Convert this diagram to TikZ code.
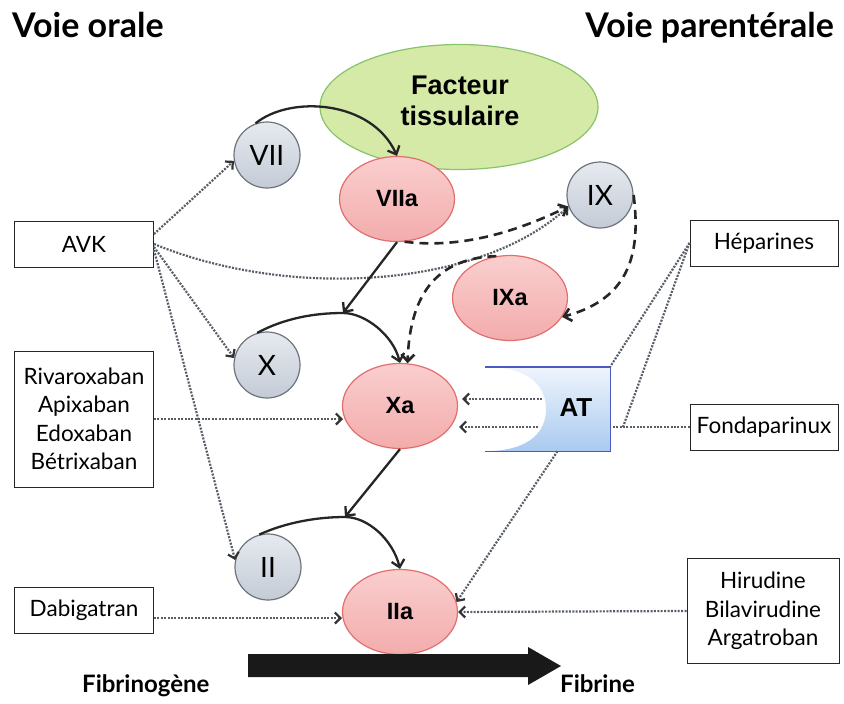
\documentclass[tikz,border=0pt]{standalone}
\usepackage{fontspec}
\setmainfont{Lato}
\newfontfamily\arialf{Liberation Sans}
\usetikzlibrary{arrows.meta,shapes.geometric}
\definecolor{dotc}{RGB}{88,94,104}
\definecolor{pinkf}{RGB}{243,172,172}
\definecolor{pinkt}{RGB}{250,206,206}
\definecolor{pinkd}{RGB}{226,110,110}
\definecolor{grayf}{RGB}{196,203,213}
\definecolor{grayt}{RGB}{230,234,240}
\definecolor{grayd}{RGB}{110,116,124}
\definecolor{greenf}{RGB}{214,234,168}
\definecolor{greend}{RGB}{135,195,105}
\definecolor{atf}{RGB}{170,202,240}
\definecolor{att}{RGB}{238,245,252}
\definecolor{atd}{RGB}{75,90,195}
\tikzset{
  drug/.style={draw=black!85, line width=1pt, minimum width=139, minimum height=46, align=center, inner sep=0, font=\fontsize{22.5}{28.5}\selectfont},
  gcirc/.style={circle, draw=grayd, line width=1.2pt, top color=grayt, bottom color=grayf, minimum size=66, inner sep=0, font=\fontsize{28}{28}\selectfont},
  pell/.style={ellipse, draw=pinkd, line width=1.2pt, top color=pinkt, bottom color=pinkf, minimum width=115, minimum height=85, inner sep=0, font=\arialf\bfseries\fontsize{23.5}{23.5}\selectfont},
  title/.style={font=\bfseries\fontsize{34}{34}\selectfont, inner sep=0},
  foot/.style={font=\bfseries\fontsize{24}{24}\selectfont, inner sep=0},
  dot/.style={draw=dotc, line width=2.2pt, dash pattern=on 2pt off 1.4pt, -{Straight Barb[length=5.5pt,width=11pt,line width=2.2pt,color=black!80]}},
  dotl/.style={draw=dotc, line width=2.2pt, dash pattern=on 2pt off 1.4pt},
  sol/.style={draw=black!85, line width=2.3pt, -{Straight Barb[length=7pt,width=13pt]}},
  dsh/.style={draw=black!85, line width=2.6pt, dash pattern=on 9pt off 6pt, -{Straight Barb[length=7pt,width=13pt]}}
}
\begin{document}
\begin{tikzpicture}[x=1pt,y=-1pt]
\useasboundingbox (0,0) rectangle (844,704);
% titles
\node[title, anchor=base west] (vo) at (12,37) {Voie orale};
\node[title, anchor=base east] (vp) at (834,37) {Voie parentérale};
% tissue factor
\node[ellipse, draw=greend, line width=1.2pt, fill=greenf, minimum width=278, minimum height=125, inner sep=0] (ft) at (459,107) {};
\node[align=center, inner sep=0, font=\arialf\bfseries\fontsize{27}{31}\selectfont] (ftl) at (460,101) {Facteur\\tissulaire};
% factors
\node[gcirc] (vii) at (267,155) {VII};
\node[gcirc] (ix) at (600,195) {IX};
\node[gcirc] (x) at (267,365) {X};
\node[gcirc] (ii) at (268,567) {II};
\node[pell] (viia) at (397,199) {VIIa};
\node[pell] (ixa) at (510,298) {IXa};
\node[pell] (xa) at (400,406) {Xa};
\node[pell] (iia) at (400,612) {IIa};
% AT shape
\node[minimum width=125, minimum height=84, inner sep=0] (atbox) at (547.5,409) {};
\path[top color=att, bottom color=atf]
  (atbox.north west) -- (atbox.north east) -- (atbox.south east) -- (atbox.south west)
  .. controls (532,451) and (546,430) .. (546,409)
  .. controls (546,388) and (532,367) .. (atbox.north west) -- cycle;
\draw[atd, line width=1.4pt] (atbox.north west) -- (atbox.north east) -- (atbox.south east) -- (atbox.south west);
\node[font=\arialf\bfseries\fontsize{26}{26}\selectfont, inner sep=0] (at) at (576,408) {AT};
% drug boxes
\node[drug] (avk) at (84,244) {AVK};
\node[drug, minimum height=136] (riva) at (84,419) {Rivaroxaban\\Apixaban\\Edoxaban\\Bétrixaban};
\node[drug] (dabi) at (84,610) {Dabigatran};
\node[drug, minimum width=148] (hep) at (764,243) {Héparines};
\node[drug, minimum width=148] (fonda) at (764,427) {Fondaparinux};
\node[drug, minimum width=152, minimum height=105] (hiru) at (763,611) {Hirudine\\Bilavirudine\\Argatroban};
% bottom
\node[foot, anchor=base west] (fg) at (82,692) {Fibrinogène};
\node[foot, anchor=base west] (fb) at (560,692) {Fibrine};
\fill[black!90] (248,654) -- (528,654) -- (528,647) -- (561,666) -- (528,685) -- (528,677) -- (248,677) -- cycle;
% dotted connectors
\draw[dot] ([yshift=10pt]avk.east) -- (vii.190);
\draw[dot] (avk.east) .. controls (290,300) and (480,288) .. (ix.200);
\draw[dot] ([yshift=-3pt]avk.east) -- (x.168);
\draw[dot] ([yshift=-6pt]avk.east) -- (ii.168);
\draw[dot] (riva.east) -- ++(189,0);
\draw[dot] ([yshift=-8pt]dabi.east) -- ++(188,0);
\draw[dot] (hiru.west) -- (iia.east);
\coordinate (at1) at (542,399);
\coordinate (at2) at (538,427);
\draw[dot, shorten >=4pt] (at1) -- (at1 -| xa.east);
\draw[dot, shorten >=1pt] (at2) -- (at2 -| xa.east);
\draw[dot] ([xshift=10pt]atbox.south) -- (iia.10);
\coordinate (fj) at (623,427);
\draw[dotl] (hep.west) -- (atbox.north east);
\draw[dotl] (hep.west) -- (fj);
\draw[dotl] (fonda.west) -- (fonda.west -| atbox.east);
% solid cascade
\coordinate (j1) at (343,313);
\coordinate (j2) at (345,517);
\draw[sol] (vii.110) .. controls (290,95) and (372,100) .. (viia.north);
\draw[sol] (viia.south) -- (j1);
\draw[sol] (x.107) .. controls (285,318) and (315,313) .. (j1) .. controls (365,313) and (393,335) .. (xa.north);
\draw[sol] (xa.south) -- (j2);
\draw[sol] (ii.105) .. controls (287,522) and (318,517) .. (j2) .. controls (368,517) and (393,540) .. (iia.north);
% dashed
\draw[dsh] (viia.-80) .. controls (470,250) and (530,225) .. (ix.200);
\draw[dsh] (ix.east) .. controls (642,260) and (625,300) .. (ixa.-20);
\draw[dsh] (ixa.108) .. controls (440,258) and (410,290) .. (xa.80);
\end{tikzpicture}
\end{document}
